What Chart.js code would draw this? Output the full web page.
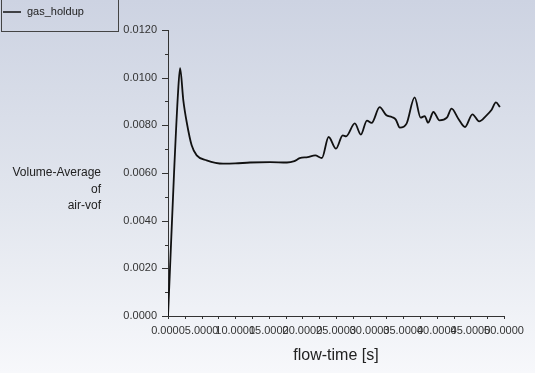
<!DOCTYPE html>
<html>
<head>
<meta charset="utf-8">
<script src="https://cdn.jsdelivr.net/npm/chart.js@4/dist/chart.umd.min.js"></script>
<style>
  html, body { margin: 0; padding: 0; }
  body {
    width: 535px; height: 373px; overflow: hidden;
    background: linear-gradient(to bottom, #cdd3e2 0%, #e2e6ee 55%, #f7f8fb 100%);
  }
  canvas { display: block; }
</style>
</head>
<body>
<canvas id="chart" width="535" height="373"></canvas>
<script>
'use strict';

// flow-time [s] and volume-average air vof
let flowTime = [0, 0.3, 0.9, 1.5, 1.8, 2.28, 2.78, 3.52, 4.27, 5.75, 8.2, 10, 12.2, 15.2, 17.7, 18.8, 19.6, 20.8,
  21.9, 22.9, 23.9, 25.0, 26.0, 26.5, 27.8, 28.7, 29.6, 30.3, 31.5, 32.5, 33.3, 33.9, 34.5,
  35.5, 36.7, 37.6, 38.2, 38.7, 39.5, 40.4, 41.5, 42.2, 43.2, 44.2, 45.3, 46.3, 47.3, 48.1,
  48.8, 49.4];
let gasHoldup = [0, 0.0020, 0.0060, 0.0094, 0.01040, 0.00905, 0.00814, 0.00716, 0.00674, 0.00653, 0.00639, 0.00640, 0.00644,
  0.00646, 0.00644, 0.00650, 0.00662, 0.00667, 0.00674, 0.00663, 0.00751, 0.00702, 0.00758,
  0.00754, 0.00808, 0.00761, 0.00820, 0.00810, 0.00876, 0.00842, 0.00835, 0.00824, 0.00790,
  0.00807, 0.00917, 0.00832, 0.00839, 0.00811, 0.00856, 0.00821, 0.00832, 0.00870, 0.00828,
  0.00793, 0.00846, 0.00817, 0.00839, 0.00863, 0.00896, 0.00877];

let xTicks = [0, 5, 10, 15, 20, 25, 30, 35, 40, 45, 50];
let yTicks = [0, 0.002, 0.004, 0.006, 0.008, 0.010, 0.012];
let yTitleLines = ['Volume-Average', 'of', 'air-vof'];
let seriesName = 'gas_holdup';

let textColor = '#333';
let fontName = '"Liberation Sans", Arial, sans-serif';

let points = [];
for (let i = 0; i < flowTime.length; i++) {
  points.push({x: flowTime[i], y: gasHoldup[i]});
}

// small tick marks, the legend box and the flat y title
let extras = {
  id: 'extras',
  afterDraw(chart) {
    let ctx = chart.ctx;
    let x = chart.scales.x;
    let y = chart.scales.y;
    let area = chart.chartArea;
    ctx.save();
    ctx.strokeStyle = '#333';
    ctx.lineWidth = 1;
    ctx.beginPath();
    // y ticks: major every label, minor half way
    let yStep = (yTicks[1] - yTicks[0]) / 2;
    for (let k = 0; k <= (yTicks.length - 1) * 2; k++) {
      let py = Math.round(y.getPixelForValue(k * yStep)) + 0.5;
      let len = k % 2 === 0 ? 6 : 3;
      ctx.moveTo(area.left - len, py);
      ctx.lineTo(area.left, py);
    }
    // x ticks every half step
    let xStep = (xTicks[1] - xTicks[0]) / 2;
    for (let k = 0; k <= (xTicks.length - 1) * 2; k++) {
      let px = Math.round(x.getPixelForValue(k * xStep)) + 0.5;
      ctx.moveTo(px, area.bottom);
      ctx.lineTo(px, area.bottom + 3);
    }
    ctx.stroke();

    // legend box
    ctx.strokeStyle = '#444';
    ctx.strokeRect(1.5, -1, 117, 32.5);
    ctx.strokeStyle = '#111';
    ctx.lineWidth = 1.5;
    ctx.beginPath();
    ctx.moveTo(3, 12);
    ctx.lineTo(21, 12);
    ctx.stroke();
    ctx.fillStyle = '#222';
    ctx.font = '11px ' + fontName;
    ctx.textBaseline = 'middle';
    ctx.textAlign = 'left';
    ctx.fillText(seriesName, 27, 12);

    // y title, flat and right aligned
    ctx.font = '12px ' + fontName;
    ctx.textAlign = 'right';
    let midY = (area.top + area.bottom) / 2;
    for (let i = 0; i < yTitleLines.length; i++) {
      ctx.fillText(yTitleLines[i], area.left - 67, midY + i * 16.5);
    }
    ctx.restore();
  }
};

let ctx = document.getElementById('chart').getContext('2d');
let chart = new Chart(ctx, {
  type: 'line',
  data: {
    datasets: [{
      label: seriesName,
      data: points,
      borderColor: '#111',
      borderWidth: 1.8,
      pointRadius: 0,
      fill: false,
      cubicInterpolationMode: 'monotone'
    }]
  },
  options: {
    responsive: false,
    animation: false,
    devicePixelRatio: 1,
    layout: {padding: {top: 30, right: 31, left: 0, bottom: 0}},
    plugins: {
      legend: {display: false},
      tooltip: {enabled: false}
    },
    scales: {
      x: {
        type: 'linear',
        min: 0,
        max: 50,
        afterFit: (scale) => { scale.height = 57; },
        afterBuildTicks: (scale) => { scale.ticks = xTicks.map(v => ({value: v})); },
        ticks: {
          autoSkip: false,
          maxRotation: 0,
          padding: 8,
          color: textColor,
          font: {family: fontName, size: 11},
          callback: (v) => Number(v).toFixed(4)
        },
        grid: {drawOnChartArea: false, drawTicks: false, tickLength: 0},
        border: {color: '#333', width: 1},
        title: {
          display: true,
          text: 'flow-time [s]',
          color: '#222',
          font: {family: fontName, size: 16},
          padding: {top: 4, bottom: 8}
        }
      },
      y: {
        min: 0,
        max: 0.012,
        afterFit: (scale) => { scale.width = 168; },
        afterBuildTicks: (scale) => { scale.ticks = yTicks.map(v => ({value: v})); },
        ticks: {
          padding: 11,
          color: textColor,
          font: {family: fontName, size: 11},
          callback: (v) => Number(v).toFixed(4)
        },
        grid: {drawOnChartArea: false, drawTicks: false, tickLength: 0},
        border: {color: '#333', width: 1}
      }
    }
  },
  plugins: [extras]
});
</script>
</body>
</html>
